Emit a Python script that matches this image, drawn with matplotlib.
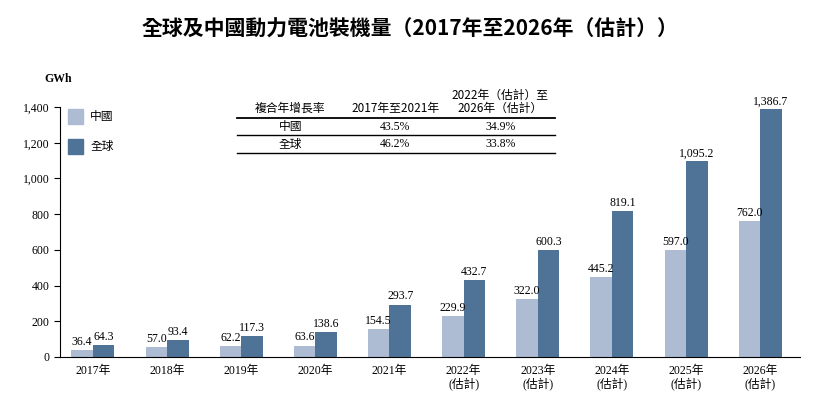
import matplotlib
matplotlib.use("Agg")
import matplotlib.pyplot as plt
import numpy as np

plt.rcParams['font.family'] = ['Liberation Serif', 'Noto Sans CJK TC']

years = ["2017年", "2018年", "2019年", "2020年", "2021年", "2022年\n(估計)", "2023年\n(估計)",
         "2024年\n(估計)", "2025年\n(估計)", "2026年\n(估計)"]
china = [36.4, 57.0, 62.2, 63.6, 154.5, 229.9, 322.0, 445.2, 597.0, 762.0]
world = [64.3, 93.4, 117.3, 138.6, 293.7, 432.7, 600.3, 819.1, 1095.2, 1386.7]
cagr_rows = ["中國", "全球"]
cagr_a = ["43.5%", "46.2%"]
cagr_b = ["34.9%", "33.8%"]

C_CN = "#adbcd3"
C_WD = "#4f7396"

fig = plt.figure(figsize=(8.2, 4.07), dpi=100)
ax = fig.add_axes([0.073, 0.123, 0.903, 0.614])
x = np.arange(len(years))
w = 0.29
ax.bar(x - w / 2, china, w, color=C_CN)
ax.bar(x + w / 2, world, w, color=C_WD)
for xi, c, g in zip(x, china, world):
    ax.text(xi - w / 2, c + 12, f"{c:,.1f}", ha="center", va="bottom", fontsize=8.5)
    ax.text(xi + w / 2, g + 12, f"{g:,.1f}", ha="center", va="bottom", fontsize=8.5)

ax.set_xlim(-0.445, 9.54)
ax.set_ylim(0, 1400)
ax.set_yticks(range(0, 1401, 200))
ax.set_yticklabels([f"{v:,}" for v in range(0, 1401, 200)], fontsize=8.5)
ax.set_xticks(x)
ax.set_xticklabels(years, fontsize=8.5, linespacing=1.0)
ax.tick_params(axis="x", length=0, pad=6)
ax.tick_params(axis="y", length=4)
for s in ["top", "right"]:
    ax.spines[s].set_visible(False)
fig.text(0.088, 0.806, "GWh", fontsize=8.5, ha="right", va="center", fontweight="bold")

# legend
fig.patches.append(plt.Rectangle((0.083, 0.695), 0.018, 0.036, transform=fig.transFigure, color=C_CN))
fig.patches.append(plt.Rectangle((0.083, 0.622), 0.018, 0.036, transform=fig.transFigure, color=C_WD))
fig.text(0.110, 0.713, "中國", fontsize=8.5, va="center")
fig.text(0.110, 0.640, "全球", fontsize=8.5, va="center")

# CAGR table
cols = [0.354, 0.482, 0.61]
fig.text(cols[0], 0.733, "複合年增長率", ha="center", va="center", fontsize=8.5)
fig.text(cols[1], 0.733, "2017年至2021年", ha="center", va="center", fontsize=8.5, family="Noto Sans CJK TC")
fig.text(cols[2], 0.75, "2022年（估計）至\n2026年（估計）", ha="center", va="center", fontsize=8.5,
         family="Noto Sans CJK TC", linespacing=1.05)
for yy, lw in [(0.71, 1.3), (0.668, 1.0), (0.624, 1.0)]:
    fig.add_artist(plt.Line2D([0.289, 0.677], [yy, yy], color="black", lw=lw, transform=fig.transFigure))
for i, r in enumerate(cagr_rows):
    yy = 0.689 - i * 0.044
    fig.text(cols[0], yy, r, ha="center", va="center", fontsize=8.5)
    fig.text(cols[1], yy, cagr_a[i], ha="center", va="center", fontsize=8.5)
    fig.text(cols[2], yy, cagr_b[i], ha="center", va="center", fontsize=8.5)

fig.suptitle("全球及中國動力電池裝機量（2017年至2026年（估計））", x=0.5, y=0.955,
             fontsize=15, fontweight="bold", family=["Noto Sans CJK TC"])
fig.savefig("out.png", dpi=100, facecolor="white")
